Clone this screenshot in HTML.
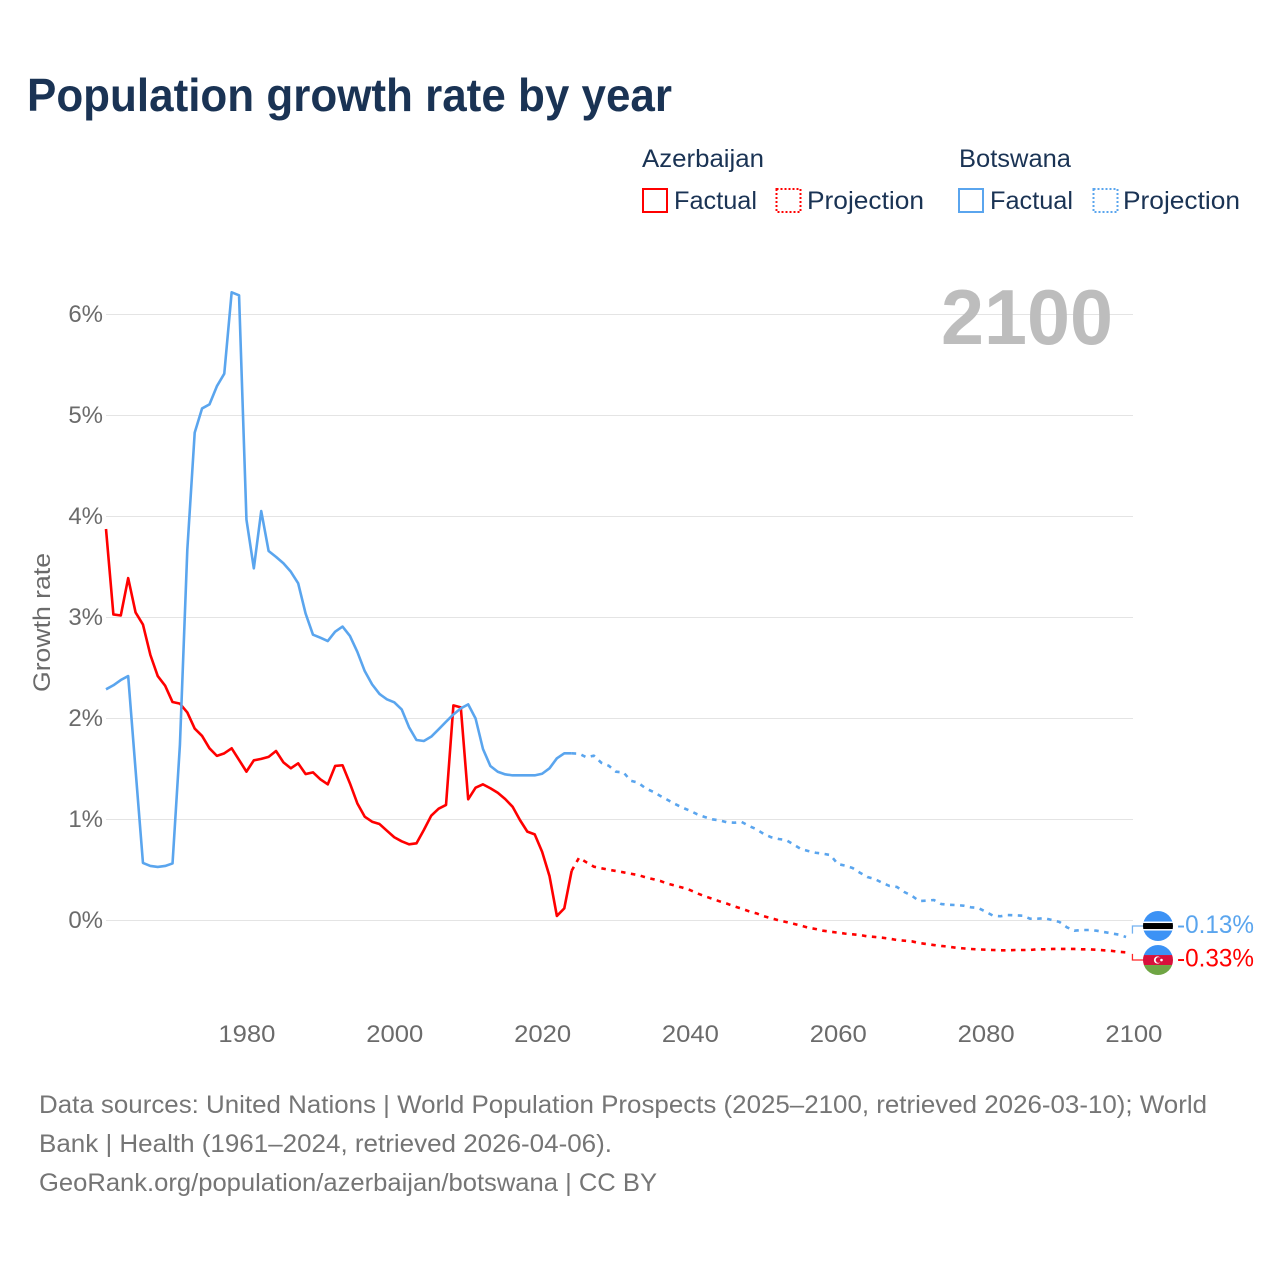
<!DOCTYPE html>
<html lang="en">
<head>
<meta charset="utf-8">
<title>Population growth rate by year</title>
<style>
html,body{margin:0;padding:0;background:#fff;}
svg{display:block;font-family:"Liberation Sans",sans-serif;}
</style>
</head>
<body>
<svg id="chart" width="1280" height="1280" viewBox="0 0 1280 1280" xmlns="http://www.w3.org/2000/svg">
  <rect width="1280" height="1280" fill="#fff"/>
  <text x="27" y="111" font-size="46" font-weight="700" fill="#1a3354" textLength="645" lengthAdjust="spacingAndGlyphs">Population growth rate by year</text>

  <g font-size="25" fill="#1a3354">
    <text x="642" y="167" textLength="122" lengthAdjust="spacingAndGlyphs">Azerbaijan</text>
    <rect x="643" y="189" width="24" height="23" fill="none" stroke="#ff0000" stroke-width="2"/>
    <text x="674" y="209" textLength="83" lengthAdjust="spacingAndGlyphs">Factual</text>
    <rect x="776.5" y="189" width="24" height="23" fill="none" stroke="#ff0000" stroke-width="2" stroke-dasharray="2 2"/>
    <text x="807" y="209" textLength="117" lengthAdjust="spacingAndGlyphs">Projection</text>
    <text x="959" y="167" textLength="112" lengthAdjust="spacingAndGlyphs">Botswana</text>
    <rect x="959" y="189" width="24" height="23" fill="none" stroke="#5aa5ee" stroke-width="2"/>
    <text x="990" y="209" textLength="83" lengthAdjust="spacingAndGlyphs">Factual</text>
    <rect x="1093.5" y="189" width="24" height="23" fill="none" stroke="#5aa5ee" stroke-width="2" stroke-dasharray="2 2"/>
    <text x="1123" y="209" textLength="117" lengthAdjust="spacingAndGlyphs">Projection</text>
  </g>

  <g id="grid"></g>
  <g id="yticks"></g>
  <g id="xticks"></g>
  <text transform="translate(50,622.5) rotate(-90)" text-anchor="middle" font-size="24" fill="#6b6b6b" textLength="139" lengthAdjust="spacingAndGlyphs">Growth rate</text>

  <text x="941" y="344" font-size="78" font-weight="700" fill="#bdbdbd" textLength="172" lengthAdjust="spacingAndGlyphs">2100</text>

  <g id="series" transform="translate(-0.5,0)"></g>

  <defs>
    <clipPath id="bw-clip"><circle id="bw-clip-c" cx="1158" cy="926" r="15"/></clipPath>
    <clipPath id="az-clip"><circle id="az-clip-c" cx="1158" cy="960" r="15"/></clipPath>
  </defs>
  <g id="bw-flag" clip-path="url(#bw-clip)"></g>
  <g id="az-flag" clip-path="url(#az-clip)"></g>
  <text id="bw-value" x="1177" font-size="25" fill="#5aa5ee" textLength="77" lengthAdjust="spacingAndGlyphs"></text>
  <text id="az-value" x="1177" font-size="25" fill="#ff0000" textLength="77" lengthAdjust="spacingAndGlyphs"></text>

  <g font-size="25" fill="#757575">
    <text x="39" y="1113" textLength="1168" lengthAdjust="spacingAndGlyphs">Data sources: United Nations | World Population Prospects (2025–2100, retrieved 2026-03-10); World</text>
    <text x="39" y="1152" textLength="573" lengthAdjust="spacingAndGlyphs">Bank | Health (1961–2024, retrieved 2026-04-06).</text>
    <text x="39" y="1191" textLength="618" lengthAdjust="spacingAndGlyphs">GeoRank.org/population/azerbaijan/botswana | CC BY</text>
  </g>
</svg>

<script>
const factualStartYear = 1961;
const projectionStartYear = 2025;
const yTickValues = [0, 1, 2, 3, 4, 5, 6];
const yTickLabels = ["0%", "1%", "2%", "3%", "4%", "5%", "6%"];
const xTickValues = [1980, 2000, 2020, 2040, 2060, 2080, 2100];
const xTickLabels = ["1980", "2000", "2020", "2040", "2060", "2080", "2100"];

// Azerbaijan factual 1961-2024 (% per year)
const azerbaijanFactual = [3.876, 3.03, 3.02, 3.39, 3.05, 2.93, 2.63, 2.42, 2.325, 2.163,
  2.147, 2.06, 1.90, 1.827, 1.705, 1.63, 1.655, 1.705, 1.59, 1.474,
  1.586, 1.60, 1.62, 1.678, 1.566, 1.507, 1.556, 1.45, 1.467, 1.398,
  1.348, 1.53, 1.537, 1.358, 1.16, 1.028, 0.978, 0.955, 0.889, 0.824,
  0.784, 0.754, 0.764, 0.896, 1.038, 1.107, 1.144, 2.13, 2.11, 1.20,
  1.315, 1.348, 1.309, 1.265, 1.203, 1.127, 0.995, 0.88, 0.853, 0.681,
  0.44, 0.045, 0.12, 0.493];

// Azerbaijan projection 2025-2100
const azerbaijanProjection = [0.622, 0.576, 0.533, 0.517, 0.503, 0.49, 0.477, 0.463, 0.45, 0.427,
  0.41, 0.391, 0.364, 0.345, 0.325, 0.302, 0.269, 0.24, 0.216, 0.19,
  0.167, 0.14, 0.117, 0.091, 0.071, 0.042, 0.022, 0.002, -0.015, -0.032,
  -0.051, -0.071, -0.084, -0.101, -0.111, -0.12, -0.13, -0.137, -0.144, -0.157,
  -0.163, -0.17, -0.18, -0.193, -0.2, -0.206, -0.223, -0.233, -0.243, -0.252,
  -0.259, -0.27, -0.276, -0.282, -0.286, -0.289, -0.292, -0.295, -0.295, -0.292,
  -0.292, -0.292, -0.285, -0.285, -0.282, -0.282, -0.282, -0.282, -0.285, -0.285,
  -0.29, -0.295, -0.30, -0.31, -0.315, -0.33];

// Botswana factual 1961-2024
const botswanaFactual = [2.289, 2.329, 2.381, 2.42, 1.49, 0.57, 0.54, 0.53, 0.54, 0.565,
  1.74, 3.67, 4.83, 5.07, 5.11, 5.29, 5.414, 6.22, 6.19, 3.97,
  3.487, 4.054, 3.658, 3.60, 3.537, 3.454, 3.338, 3.04, 2.83, 2.80,
  2.767, 2.86, 2.91, 2.817, 2.66, 2.47, 2.338, 2.243, 2.19, 2.16,
  2.09, 1.913, 1.787, 1.777, 1.82, 1.893, 1.968, 2.04, 2.10, 2.14,
  2.0, 1.698, 1.53, 1.473, 1.447, 1.437, 1.437, 1.437, 1.437, 1.453,
  1.507, 1.606, 1.655, 1.655];

// Botswana projection 2025-2100
const botswanaProjection = [1.652, 1.616, 1.632, 1.562, 1.533, 1.473, 1.467, 1.384, 1.364, 1.309,
  1.275, 1.233, 1.193, 1.153, 1.117, 1.087, 1.051, 1.025, 1.002, 0.992,
  0.972, 0.968, 0.975, 0.936, 0.903, 0.856, 0.824, 0.807, 0.797, 0.754,
  0.708, 0.688, 0.671, 0.661, 0.648, 0.559, 0.543, 0.52, 0.473, 0.431,
  0.411, 0.374, 0.342, 0.332, 0.282, 0.246, 0.193, 0.196, 0.203, 0.163,
  0.156, 0.153, 0.147, 0.131, 0.124, 0.087, 0.048, 0.042, 0.054, 0.051,
  0.048, 0.018, 0.018, 0.022, 0.005, -0.015, -0.067, -0.101, -0.094, -0.094,
  -0.101, -0.114, -0.127, -0.14, -0.163, -0.13];

const NS = "http://www.w3.org/2000/svg";
function xScale(year) { return 106.5 + (year - 1961) * (1134 - 247) / 120; }
function yScale(v) { return 920.5 - v * 101; }

function make(tag, attrs, parent) {
  const el = document.createElementNS(NS, tag);
  for (const k in attrs) el.setAttribute(k, attrs[k]);
  parent.appendChild(el);
  return el;
}

function linePath(pts) {
  return pts.map(function (p, i) {
    return (i ? "L" : "M") + xScale(p[0]).toFixed(2) + " " + yScale(p[1]).toFixed(2);
  }).join("");
}

const gridG = document.getElementById("grid");
const yG = document.getElementById("yticks");
const xG = document.getElementById("xticks");
const seriesG = document.getElementById("series");

yTickValues.forEach(function (v, i) {
  const line = make("line", {x1: 106, x2: 1133, y1: yScale(v), y2: yScale(v), stroke: "#e4e4e4", "stroke-width": 1}, gridG);
  
  
  const t = make("text", {x: 103, y: yScale(v) + 7.5, "text-anchor": "end", "font-size": 24, fill: "#6b6b6b"}, yG);
  
  
  t.textContent = yTickLabels[i];
});

xTickValues.forEach(function (v, i) {
  const t = make("text", {x: xScale(v) - 28.5, y: 1042, "font-size": 24, fill: "#6b6b6b", textLength: 57, lengthAdjust: "spacingAndGlyphs"}, xG);
  
  
  t.textContent = xTickLabels[i];
});

function toPoints(values, start) {
  return values.map(function (v, i) { return [start + i, v]; });
}

function drawSeries(factual, projection, color, name) {
  const fPts = toPoints(factual, factualStartYear);
  const pPts = toPoints(projection, projectionStartYear);
  const proj = make("path", {d: linePath([fPts[fPts.length - 1]].concat(pPts.slice(0, -1))), fill: "none", stroke: color, "stroke-width": 2.6, "stroke-dasharray": "4.5 5.5", "stroke-linejoin": "round"}, seriesG);
  
  
  const fact = make("path", {d: linePath(fPts), fill: "none", stroke: color, "stroke-width": 2.6, "stroke-linejoin": "round"}, seriesG);
  
  
}

drawSeries(azerbaijanFactual, azerbaijanProjection, "#ff0000", "azerbaijan");
drawSeries(botswanaFactual, botswanaProjection, "#5aa5ee", "botswana");

const azLast = azerbaijanProjection[azerbaijanProjection.length - 1];
const bwLast = botswanaProjection[botswanaProjection.length - 1];
const azEndY = yScale(azLast);
const bwEndY = yScale(bwLast);
const bwFlagY = bwEndY - 7.6;
const azFlagY = azEndY + 6.2;

function leader(endY, flagY, color, name) {
  const x0 = xScale(2100) - 1;
  const el = make("path", {d: "M" + x0 + " " + endY + "L" + x0 + " " + flagY + "L1144 " + flagY, fill: "none", stroke: color, "stroke-width": 1.3, opacity: 0.85}, seriesG);
  
  
}
leader(bwEndY, bwFlagY, "#5aa5ee", "botswana");
leader(azEndY, azFlagY, "#ff0000", "azerbaijan");

document.getElementById("bw-clip-c").setAttribute("cy", bwFlagY);
document.getElementById("az-clip-c").setAttribute("cy", azFlagY);

const bwG = document.getElementById("bw-flag");
make("rect", {x: 1143, y: bwFlagY - 15, width: 30, height: 30, fill: "#3c92f5"}, bwG);
make("rect", {x: 1143, y: bwFlagY - 4.5, width: 30, height: 9, fill: "#fff"}, bwG);
make("rect", {x: 1143, y: bwFlagY - 3, width: 30, height: 6, fill: "#000"}, bwG);

const azG = document.getElementById("az-flag");
make("rect", {x: 1143, y: azFlagY - 15, width: 30, height: 10, fill: "#3c92f5"}, azG);
make("rect", {x: 1143, y: azFlagY - 5, width: 30, height: 10, fill: "#d8113c"}, azG);
make("rect", {x: 1143, y: azFlagY + 5, width: 30, height: 10, fill: "#6fa544"}, azG);
make("circle", {cx: 1157.5, cy: azFlagY, r: 3.6, fill: "#fff"}, azG);
make("circle", {cx: 1158.6, cy: azFlagY, r: 2.9, fill: "#d8113c"}, azG);
make("circle", {cx: 1161.5, cy: azFlagY, r: 1.3, fill: "#fff"}, azG);

function fmt(v) { return v.toFixed(2) + "%"; }
const bwVal = document.getElementById("bw-value");
bwVal.setAttribute("y", bwFlagY + 7);
bwVal.textContent = fmt(bwLast);
const azVal = document.getElementById("az-value");
azVal.setAttribute("y", azFlagY + 6.5);
azVal.textContent = fmt(azLast);
</script>
</body>
</html>
